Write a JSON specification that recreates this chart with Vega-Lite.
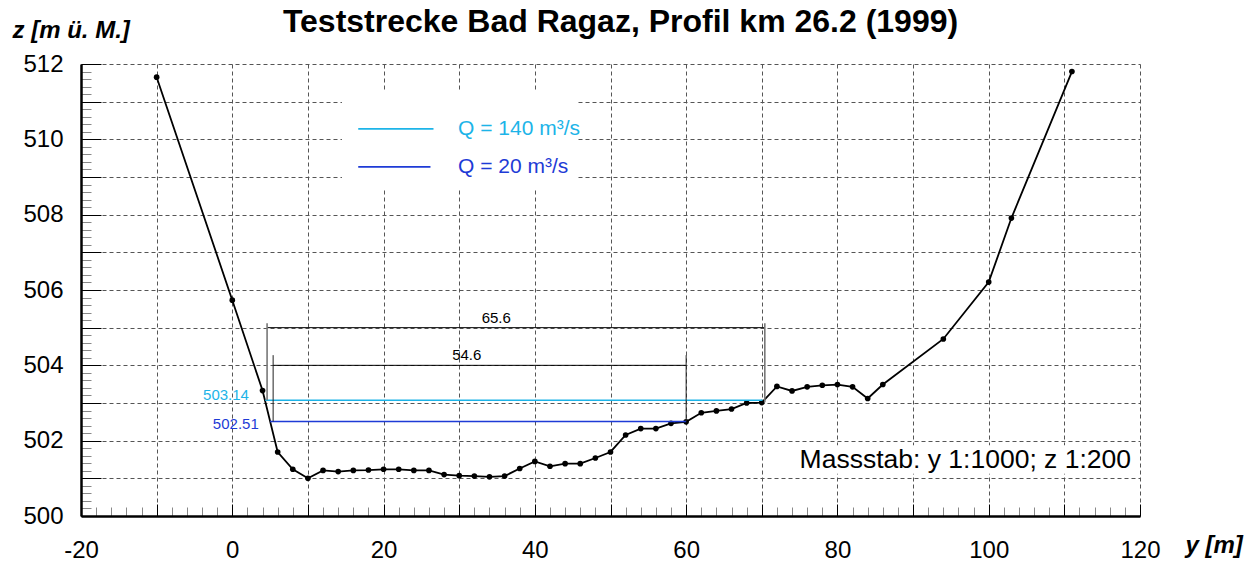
{
  "$schema": "https://vega.github.io/schema/vega-lite/v6.json",
  "width": 1059,
  "height": 452,
  "autosize": {"type": "none"},
  "padding": {"left": 81, "top": 64, "right": 116, "bottom": 46},
  "background": "white",
  "config": {
    "view": {"stroke": null},
    "font": "Liberation Sans",
    "axis": {"labelFont": "Liberation Sans", "titleFont": "Liberation Sans", "labelColor": "black", "titleColor": "black"},
    "text": {"font": "Liberation Sans"}
  },
  "title": {
    "text": "Teststrecke Bad Ragaz, Profil km 26.2 (1999)",
    "font": "Liberation Sans",
    "fontSize": 32,
    "fontWeight": "bold",
    "color": "black",
    "frame": "group",
    "anchor": "middle",
    "offset": 0,
    "baseline": "alphabetic",
    "dx": 10,
    "dy": 46
  },
  "datasets": {
    "profile": [
      {"x": -10, "z": 511.65}, {"x": 0, "z": 505.73}, {"x": 4, "z": 503.33}, {"x": 6, "z": 501.70},
      {"x": 8, "z": 501.24}, {"x": 10, "z": 501.00}, {"x": 12, "z": 501.21}, {"x": 14, "z": 501.18},
      {"x": 16, "z": 501.21}, {"x": 18, "z": 501.22}, {"x": 20, "z": 501.24}, {"x": 22, "z": 501.24},
      {"x": 24, "z": 501.21}, {"x": 26, "z": 501.21}, {"x": 28, "z": 501.10}, {"x": 30, "z": 501.07},
      {"x": 32, "z": 501.06}, {"x": 34, "z": 501.04}, {"x": 36, "z": 501.06}, {"x": 38, "z": 501.26},
      {"x": 40, "z": 501.45}, {"x": 42, "z": 501.32}, {"x": 44, "z": 501.39}, {"x": 46, "z": 501.39},
      {"x": 48, "z": 501.54}, {"x": 50, "z": 501.70}, {"x": 52, "z": 502.15}, {"x": 54, "z": 502.32},
      {"x": 56, "z": 502.32}, {"x": 58, "z": 502.46}, {"x": 60, "z": 502.50}, {"x": 62, "z": 502.74},
      {"x": 64, "z": 502.79}, {"x": 66, "z": 502.84}, {"x": 68, "z": 503.00}, {"x": 70, "z": 503.01},
      {"x": 72, "z": 503.44}, {"x": 74, "z": 503.32}, {"x": 76, "z": 503.43}, {"x": 78, "z": 503.47},
      {"x": 80, "z": 503.49}, {"x": 82, "z": 503.43}, {"x": 84, "z": 503.12}, {"x": 86, "z": 503.49},
      {"x": 94, "z": 504.70}, {"x": 100, "z": 506.21}, {"x": 103, "z": 507.91}, {"x": 111, "z": 511.80}
    ],
    "water": [
      {"q": "140", "x": 4.35, "x2": 70.1, "z": 503.07},
      {"q": "20", "x": 5.0, "x2": 60.0, "z": 502.51}
    ],
    "dimH": [
      {"x": 4.6, "x2": 70.4, "z": 505.0},
      {"x": 5.4, "x2": 60.0, "z": 504.0}
    ],
    "dimVgray": [
      {"x": 4.6, "z": 505.12, "z2": 503.07},
      {"x": 70.4, "z": 505.12, "z2": 503.02}
    ],
    "dimVblack": [
      {"x": 5.4, "z": 504.27, "z2": 502.51},
      {"x": 60.0, "z": 504.27, "z2": 502.51}
    ],
    "dimText": [
      {"x": 34.9, "z": 505.25, "t": "65.6"},
      {"x": 31.0, "z": 504.27, "t": "54.6"}
    ],
    "levelText": [
      {"q": "140", "x": 2.2, "z": 503.21, "t": "503.14"},
      {"q": "20", "x": 3.5, "z": 502.44, "t": "502.51"}
    ],
    "legendLines": [
      {"q": "140", "x": 16.65, "x2": 26.6, "z": 510.28},
      {"q": "20", "x": 16.65, "x2": 26.2, "z": 509.27}
    ],
    "legendText": [
      {"q": "140", "x": 29.85, "z": 510.28, "t": "Q = 140 m³/s"},
      {"q": "20", "x": 29.85, "z": 509.27, "t": "Q = 20 m³/s"}
    ],
    "boxes": [
      {"x": 14.5, "x2": 45.7, "z": 508.7, "z2": 511.3},
      {"x": 74.6, "x2": 120, "z": 501.12, "z2": 501.88}
    ],
    "note": [
      {"x": 75.0, "z": 501.5, "t": "Massstab: y 1:1000; z 1:200"}
    ]
  },
  "encoding": {
    "x": {"field": "x", "type": "quantitative", "scale": {"domain": [-20, 120], "nice": false, "zero": false}, "axis": null},
    "y": {"field": "z", "type": "quantitative", "scale": {"domain": [500, 512], "nice": false, "zero": false}, "axis": null}
  },
  "layer": [
    {
      "data": {"name": "boxes"},
      "mark": {"type": "rect", "fill": "white", "stroke": null},
      "encoding": {"x2": {"field": "x2"}, "y2": {"field": "z2"}}
    },
    {
      "data": {"name": "profile"},
      "mark": {"type": "line", "color": "black", "strokeWidth": 1.8},
      "encoding": {
        "x": {"field": "x", "type": "quantitative", "scale": {"domain": [-20, 120], "nice": false, "zero": false},
          "axis": {"orient": "bottom", "values": [-20, -10, 0, 10, 20, 30, 40, 50, 60, 70, 80, 90, 100, 110, 120],
            "grid": true, "gridDash": [4, 3], "gridColor": "#555", "gridWidth": 1, "gridOpacity": 1,
            "labels": false, "domain": false, "ticks": true, "tickSize": -12, "tickColor": "black", "tickWidth": 1, "title": null}},
        "y": {"field": "z", "type": "quantitative", "scale": {"domain": [500, 512], "nice": false, "zero": false},
          "axis": {"orient": "left", "values": [500, 501, 502, 503, 504, 505, 506, 507, 508, 509, 510, 511, 512],
            "grid": true, "gridDash": [4, 3], "gridColor": "#555", "gridWidth": 1, "gridOpacity": 1,
            "labels": false, "domain": false, "ticks": true, "tickSize": -20, "tickColor": "black", "tickWidth": 1, "title": null}}
      }
    },
    {
      "data": {"name": "profile"},
      "mark": {"type": "point", "filled": true, "color": "black", "size": 32, "opacity": 1},
      "encoding": {
        "x": {"field": "x", "type": "quantitative", "scale": {"domain": [-20, 120], "nice": false, "zero": false},
          "axis": {"orient": "bottom", "values": [-18, -16, -14, -12, -8, -6, -4, -2, 2, 4, 6, 8, 12, 14, 16, 18, 22, 24, 26, 28, 32, 34, 36, 38, 42, 44, 46, 48, 52, 54, 56, 58, 62, 64, 66, 68, 72, 74, 76, 78, 82, 84, 86, 88, 92, 94, 96, 98, 102, 104, 106, 108, 112, 114, 116, 118],
            "grid": false, "labels": false, "domain": false, "ticks": true, "tickSize": -9, "tickColor": "#888", "tickWidth": 1, "title": null}},
        "y": {"field": "z", "type": "quantitative", "scale": {"domain": [500, 512], "nice": false, "zero": false},
          "axis": {"orient": "left", "values": [500.2, 500.4, 500.6, 500.8, 501.2, 501.4, 501.6, 501.8, 502.2, 502.4, 502.6, 502.8, 503.2, 503.4, 503.6, 503.8, 504.2, 504.4, 504.6, 504.8, 505.2, 505.4, 505.6, 505.8, 506.2, 506.4, 506.6, 506.8, 507.2, 507.4, 507.6, 507.8, 508.2, 508.4, 508.6, 508.8, 509.2, 509.4, 509.6, 509.8, 510.2, 510.4, 510.6, 510.8, 511.2, 511.4, 511.6, 511.8],
            "grid": false, "labels": false, "domain": false, "ticks": true, "tickSize": -10, "tickColor": "#888", "tickWidth": 1, "title": null}}
      }
    },
    {
      "data": {"name": "water"},
      "mark": {"type": "rule", "strokeWidth": 1.5},
      "encoding": {
        "x": {"field": "x", "type": "quantitative", "scale": {"domain": [-20, 120], "nice": false, "zero": false},
          "axis": {"orient": "bottom", "values": [-20, 0, 20, 40, 60, 80, 100, 120], "grid": false,
            "labels": true, "labelExpr": "'' + datum.value", "labelFontSize": 24, "labelPadding": 22, "labelFlush": false, "labelOverlap": false,
            "domain": true, "domainColor": "black", "domainWidth": 2.5, "ticks": false, "tickSize": 0,
            "title": "y [m]", "titleFontSize": 24, "titleFontWeight": "bold", "titleFontStyle": "italic",
            "titleAlign": "left", "titleBaseline": "middle", "titleX": 1104, "titleY": 29, "titleAngle": 0}},
        "x2": {"field": "x2"},
        "y": {"field": "z", "type": "quantitative", "scale": {"domain": [500, 512], "nice": false, "zero": false},
          "axis": {"orient": "left", "values": [500, 502, 504, 506, 508, 510, 512], "grid": false,
            "labels": true, "labelFontSize": 24, "labelPadding": 18, "labelFlush": false, "labelOverlap": false, "labelBaseline": "middle",
            "domain": true, "domainColor": "black", "domainWidth": 2.5, "ticks": false, "tickSize": 0,
            "title": "z [m ü. M.]", "titleFontSize": 24, "titleFontWeight": "bold", "titleFontStyle": "italic",
            "titleAlign": "left", "titleBaseline": "middle", "titleX": -69, "titleY": -34, "titleAngle": 0}},
        "color": {"field": "q", "type": "nominal", "scale": {"domain": ["140", "20"], "range": ["#1DB4E8", "#1E3BD6"]}, "legend": null}
      }
    },
    {
      "data": {"name": "dimH"},
      "mark": {"type": "rule", "color": "black", "strokeWidth": 1},
      "encoding": {"x2": {"field": "x2"}}
    },
    {
      "data": {"name": "dimVgray"},
      "mark": {"type": "rule", "color": "#777", "strokeWidth": 1.6},
      "encoding": {"y2": {"field": "z2"}}
    },
    {
      "data": {"name": "dimVblack"},
      "mark": {"type": "rule", "color": "#222", "strokeWidth": 1},
      "encoding": {"y2": {"field": "z2"}}
    },
    {
      "data": {"name": "dimText"},
      "mark": {"type": "text", "fontSize": 15, "color": "black", "align": "center", "baseline": "middle"},
      "encoding": {"text": {"field": "t"}}
    },
    {
      "data": {"name": "levelText"},
      "mark": {"type": "text", "fontSize": 15, "align": "right", "baseline": "middle"},
      "encoding": {"text": {"field": "t"}, "color": {"field": "q", "type": "nominal", "scale": {"domain": ["140", "20"], "range": ["#1DB4E8", "#1E3BD6"]}, "legend": null}}
    },
    {
      "data": {"name": "legendLines"},
      "mark": {"type": "rule", "strokeWidth": 1.8},
      "encoding": {"x2": {"field": "x2"}, "color": {"field": "q", "type": "nominal", "scale": {"domain": ["140", "20"], "range": ["#1DB4E8", "#1E3BD6"]}, "legend": null}}
    },
    {
      "data": {"name": "legendText"},
      "mark": {"type": "text", "fontSize": 21, "align": "left", "baseline": "middle"},
      "encoding": {"text": {"field": "t"}, "color": {"field": "q", "type": "nominal", "scale": {"domain": ["140", "20"], "range": ["#1DB4E8", "#1E3BD6"]}, "legend": null}}
    },
    {
      "data": {"name": "note"},
      "mark": {"type": "text", "fontSize": 26.5, "color": "black", "align": "left", "baseline": "middle"},
      "encoding": {"text": {"field": "t"}}
    }
  ],
  "resolve": {"axis": {"x": "independent", "y": "independent"}}
}
